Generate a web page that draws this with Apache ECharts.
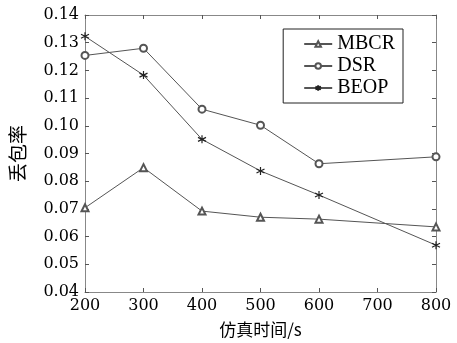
<!DOCTYPE html>
<html><head><meta charset="utf-8">
<script src="https://cdn.jsdelivr.net/npm/echarts@6/dist/echarts.min.js"></script>
<style>html,body{margin:0;padding:0;background:#fff}#c{width:457px;height:343px}</style>
</head><body><div id="c"></div>
<script>
const xValues = [200, 300, 400, 500, 600, 800];
const mbcr = [0.0704, 0.0849, 0.0692, 0.0670, 0.0663, 0.0635];
const dsr  = [0.1254, 0.1280, 0.1060, 0.1002, 0.0863, 0.0888];
const beop = [0.1323, 0.1183, 0.0951, 0.0837, 0.0750, 0.0569];
const seriesNames = ['MBCR', 'DSR', 'BEOP'];
const xName = '仿真时间/s';
const yName = '丢包率';

const pair = (ys) => xValues.map((x, i) => [x, ys[i]]);
const lineCol = '#555';
const star = 'path://M0,-5L0,5M-4.33,-2.5L4.33,2.5M-4.33,2.5L4.33,-2.5';
const serif = 'DejaVu Serif';

const chart = echarts.init(document.getElementById('c'));
const axisCommon = {
  axisLine: { show: true, lineStyle: { color: '#888', width: 1 } },
  axisTick: { show: true, inside: true, length: 4, lineStyle: { color: '#555' } },
  splitLine: { show: false }
};
chart.setOption({
  animation: false,
  backgroundColor: '#fff',
  grid: { left: 79.5, right: 21, top: 15, bottom: 48, show: false },
  legend: {
    right: 54, top: 29,
    orient: 'vertical',
    itemWidth: 28, itemHeight: 7, itemGap: 2,
    padding: [5, 8, 5, 20],
    borderColor: '#222', borderWidth: 1,
    textStyle: { fontFamily: 'Liberation Serif', fontSize: 20, color: '#000' },
    data: seriesNames
  },
  xAxis: [
    Object.assign({}, axisCommon, {
      type: 'value', min: 200, max: 800, interval: 100,
      name: xName, nameLocation: 'middle', nameGap: 29,
      nameTextStyle: { fontFamily: 'Noto Sans CJK SC', fontSize: 17, color: '#000' },
      axisLabel: { fontFamily: serif, fontSize: 16, color: '#000', margin: 6 }
    }),
    Object.assign({}, axisCommon, {
      type: 'value', min: 200, max: 800, interval: 100, position: 'top',
      axisLabel: { show: false }
    })
  ],
  yAxis: [
    Object.assign({}, axisCommon, {
      type: 'value', min: 0.04, max: 0.14, interval: 0.01,
      name: yName, nameLocation: 'middle', nameGap: 58, nameRotate: 90,
      nameTextStyle: { fontFamily: 'Noto Sans CJK SC', fontSize: 19, color: '#000' },
      axisLabel: { fontFamily: serif, fontSize: 16, color: '#000', margin: 6,
        formatter: v => v.toFixed(2) }
    }),
    Object.assign({}, axisCommon, {
      type: 'value', min: 0.04, max: 0.14, interval: 0.01, position: 'right',
      axisLabel: { show: false }
    })
  ],
  series: [
    { name: seriesNames[0], type: 'line', data: pair(mbcr), symbol: 'emptyTriangle', symbolSize: 7,
      lineStyle: { color: lineCol, width: 1 }, itemStyle: { color: lineCol, borderColor: lineCol, borderWidth: 1 } },
    { name: seriesNames[1], type: 'line', data: pair(dsr), symbol: 'emptyCircle', symbolSize: 7,
      lineStyle: { color: lineCol, width: 1 }, itemStyle: { color: lineCol, borderColor: lineCol, borderWidth: 1 } },
    { name: seriesNames[2], type: 'line', data: pair(beop), symbol: star, symbolSize: 8,
      lineStyle: { color: lineCol, width: 1 }, itemStyle: { color: '#222', borderColor: '#222', borderWidth: 1.2 } }
  ]
});
</script></body></html>
